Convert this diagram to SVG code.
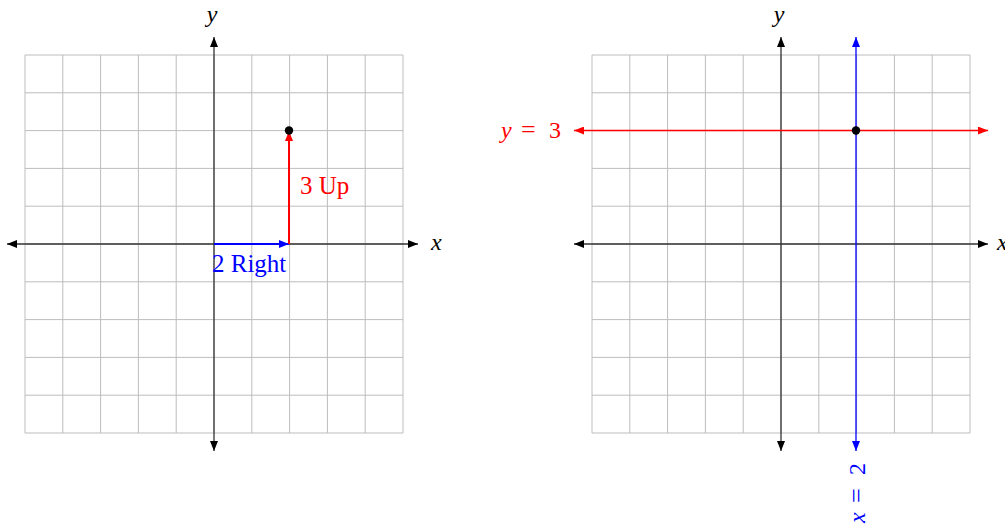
<svg xmlns="http://www.w3.org/2000/svg" width="1005" height="526" viewBox="0 0 1005 526">
<style>
.grid{stroke:#bdbdbd;stroke-width:1;fill:none}
.axis{stroke:#333;stroke-width:1.3;fill:none}
.math{font-family:"Liberation Serif",serif;font-style:italic;font-size:24px}
.txt{font-family:"Liberation Serif",serif;font-size:25px}
.up{font-style:normal}
</style>
<defs>
<marker id="ak" viewBox="0 0 10 8" refX="10" refY="4" markerWidth="10" markerHeight="8" markerUnits="userSpaceOnUse" orient="auto-start-reverse"><path d="M0,0L10,4L0,8z" fill="#000"/></marker>
<marker id="ar" viewBox="0 0 10 8" refX="10" refY="4" markerWidth="10" markerHeight="8" markerUnits="userSpaceOnUse" orient="auto-start-reverse"><path d="M0,0L10,4L0,8z" fill="#f00"/></marker>
<marker id="ab" viewBox="0 0 10 8" refX="10" refY="4" markerWidth="10" markerHeight="8" markerUnits="userSpaceOnUse" orient="auto-start-reverse"><path d="M0,0L10,4L0,8z" fill="#00f"/></marker>
<path id="gridpath" d="M0,0H378M0,37.8H378M0,75.6H378M0,113.4H378M0,151.2H378M0,189H378M0,226.8H378M0,264.6H378M0,302.4H378M0,340.2H378M0,378H378M0,0V378M37.8,0V378M75.6,0V378M113.4,0V378M151.2,0V378M189,0V378M226.8,0V378M264.6,0V378M302.4,0V378M340.2,0V378M378,0V378" class="grid"/>
</defs>
<g id="grid-left">
<use href="#gridpath" x="25" y="55"/>
</g>
<g id="grid-right">
<use href="#gridpath" x="592" y="55"/>
</g>
<g id="connectors">
<line x1="7" y1="244" x2="418" y2="244" class="axis" marker-start="url(#ak)" marker-end="url(#ak)"/>
<line x1="214" y1="451" x2="214" y2="37" class="axis" marker-start="url(#ak)" marker-end="url(#ak)"/>
<line x1="214" y1="244" x2="289" y2="244" stroke="#00f" stroke-width="2" marker-end="url(#ab)"/>
<line x1="289" y1="244" x2="289" y2="131" stroke="#f00" stroke-width="2" marker-end="url(#ar)"/>
<line x1="574" y1="244" x2="988" y2="244" class="axis" marker-start="url(#ak)" marker-end="url(#ak)"/>
<line x1="781" y1="451" x2="781" y2="37" class="axis" marker-start="url(#ak)" marker-end="url(#ak)"/>
<line x1="574" y1="130.5" x2="988" y2="130.5" stroke="#f00" stroke-width="1.3" marker-start="url(#ar)" marker-end="url(#ar)"/>
<line x1="856" y1="451" x2="856" y2="37" stroke="#00f" stroke-width="1.3" marker-start="url(#ab)" marker-end="url(#ab)"/>
</g>
<g id="point-left"><circle cx="289" cy="130.5" r="4.2" fill="#000"/></g>
<g id="point-right"><circle cx="856" cy="130.5" r="4.2" fill="#000"/></g>
<g id="labels-left">
<text class="math" x="212" y="22" text-anchor="middle">y</text>
<text class="math" x="431" y="250">x</text>
<text class="txt" x="300" y="194" fill="#f00">3 Up</text>
<text class="txt" x="212" y="272" fill="#00f">2 Right</text>
</g>
<g id="labels-right">
<text class="math" x="779" y="22" text-anchor="middle">y</text>
<text class="math" x="997" y="250">x</text>
<text class="math" y="138" fill="#f00"><tspan x="501">y</tspan><tspan class="up" x="521" font-size="26">=</tspan><tspan class="up" x="549">3</tspan></text>
<text class="math" transform="translate(865,523) rotate(-90)" fill="#00f"><tspan x="0">x</tspan><tspan class="up" x="20" font-size="26">=</tspan><tspan class="up" x="48">2</tspan></text>
</g>
</svg>
